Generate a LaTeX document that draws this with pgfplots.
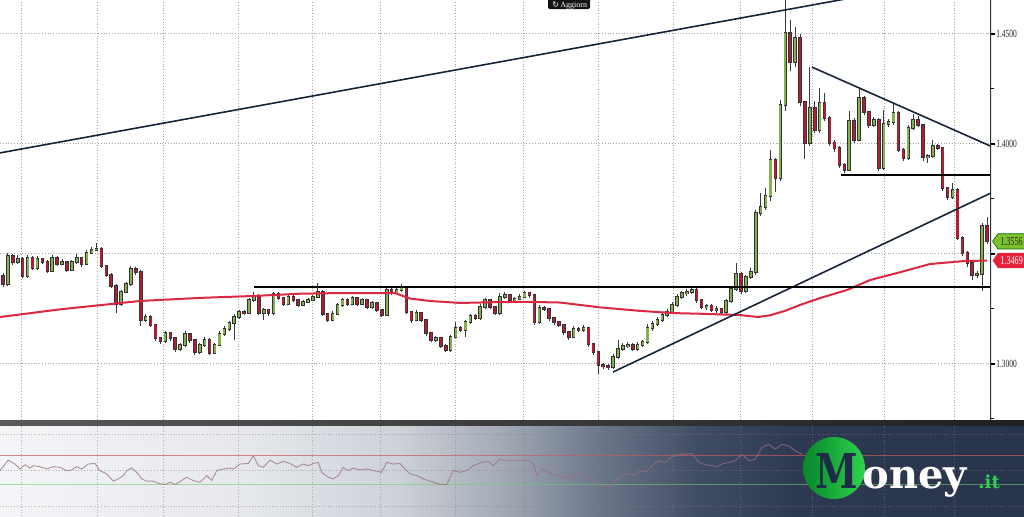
\documentclass[border=0pt]{standalone}
\usepackage{fontspec}
\setmainfont{Liberation Serif}
\newfontfamily\logofont{DejaVu Serif}
\newfontfamily\symfont{DejaVu Sans}
\usepackage{pgfplots}
\usepackage{pgfplotstable}
\pgfplotsset{compat=1.18}
\usetikzlibrary{shapes.symbols}
\definecolor{cgreen}{HTML}{86B14A}
\definecolor{cred}{HTML}{B51D37}
\definecolor{wickc}{HTML}{3A3A3A}
\definecolor{mared}{HTML}{D9283F}
\definecolor{trend}{HTML}{16243A}
\definecolor{taggreen}{HTML}{7CC12C}
\definecolor{tagred}{HTML}{E5213C}
\definecolor{rsic}{HTML}{9A6E80}
\definecolor{rsired}{HTML}{C85A5A}
\definecolor{rsigreen}{HTML}{6FCB6F}
\definecolor{bg0}{HTML}{F4F5F7}
\definecolor{bg1}{HTML}{E6E8EC}
\definecolor{bg2}{HTML}{CDD1D8}
\definecolor{bg3}{HTML}{A4ABB7}
\definecolor{bg4}{HTML}{6B768A}
\definecolor{bg5}{HTML}{404C63}
\definecolor{bg6}{HTML}{2D3951}
\definecolor{bg7}{HTML}{27344B}
\definecolor{lgD}{HTML}{08862C}
\definecolor{lgL}{HTML}{2FD24C}
\definecolor{navy}{HTML}{1E2C46}
\pgfdeclarehorizontalshading{rsibg}{100bp}{color(0bp)=(bg0); color(25bp)=(bg0); color(37bp)=(bg1); color(44.5bp)=(bg2); color(49.4bp)=(bg3); color(54.3bp)=(bg4); color(59.2bp)=(bg5); color(64bp)=(bg6); color(75bp)=(bg7); color(100bp)=(bg7)}
\pgfplotsset{candle/.style={only marks, mark=*, mark size=0pt, mark options={draw=none, fill=none}, forget plot}}

\pgfplotstableread{
o h l c
1.3398 1.3410 1.3350 1.3362
1.3362 1.3505 1.3355 1.3489
1.3489 1.3500 1.3450 1.3462
1.3462 1.3492 1.3455 1.3476
1.3476 1.3485 1.3388 1.3398
1.3398 1.3495 1.3390 1.3480
1.3480 1.3490 1.3425 1.3435
1.3435 1.3490 1.3428 1.3476
1.3476 1.3482 1.3452 1.3462
1.3462 1.3470 1.3410 1.3421
1.3421 1.3494 1.3415 1.3480
1.3480 1.3488 1.3445 1.3453
1.3453 1.3475 1.3448 1.3462
1.3462 1.3468 1.3416 1.3426
1.3426 1.3472 1.3420 1.3462
1.3462 1.3498 1.3455 1.3480
1.3480 1.3485 1.3440 1.3453
1.3453 1.3515 1.3448 1.3503
1.3503 1.3530 1.3498 1.3517
1.3517 1.3550 1.3510 1.3521
1.3521 1.3530 1.3435 1.3444
1.3444 1.3450 1.3395 1.3403
1.3403 1.3410 1.3345 1.3353
1.3353 1.3360 1.3230 1.3271
1.3271 1.3335 1.3262 1.3326
1.3326 1.3372 1.3320 1.3362
1.3362 1.3445 1.3355 1.3430
1.3430 1.3438 1.3405 1.3417
1.3417 1.3425 1.3170 1.3198
1.3198 1.3225 1.3190 1.3212
1.3212 1.3220 1.3165 1.3176
1.3176 1.3182 1.3105 1.3117
1.3117 1.3122 1.3090 1.3103
1.3103 1.3150 1.3095 1.3139
1.3139 1.3145 1.3105 1.3117
1.3117 1.3122 1.3055 1.3067
1.3067 1.3095 1.3060 1.3085
1.3085 1.3148 1.3078 1.3135
1.3135 1.3140 1.3095 1.3108
1.3108 1.3112 1.3040 1.3053
1.3053 1.3095 1.3045 1.3085
1.3085 1.3120 1.3078 1.3108
1.3108 1.3115 1.3040 1.3049
1.3049 1.3095 1.3042 1.3085
1.3085 1.3148 1.3080 1.3135
1.3135 1.3170 1.3128 1.3158
1.3158 1.3195 1.3150 1.3185
1.3185 1.3225 1.3108 1.3212
1.3212 1.3245 1.3205 1.3235
1.3235 1.3242 1.3220 1.3230
1.3230 1.3300 1.3225 1.3289
1.3289 1.3325 1.3280 1.3308
1.3308 1.3315 1.3220 1.3230
1.3230 1.3255 1.3200 1.3244
1.3244 1.3250 1.3215 1.3230
1.3230 1.3328 1.3222 1.3317
1.3317 1.3325 1.3290 1.3299
1.3299 1.3305 1.3262 1.3271
1.3271 1.3315 1.3265 1.3303
1.3303 1.3310 1.3280 1.3289
1.3289 1.3295 1.3258 1.3267
1.3267 1.3290 1.3260 1.3280
1.3280 1.3300 1.3275 1.3289
1.3289 1.3312 1.3285 1.3303
1.3303 1.3368 1.3298 1.3326
1.3326 1.3335 1.3215 1.3226
1.3226 1.3230 1.3188 1.3198
1.3198 1.3238 1.3192 1.3226
1.3226 1.3278 1.3220 1.3267
1.3267 1.3300 1.3260 1.3289
1.3289 1.3298 1.3262 1.3271
1.3271 1.3310 1.3265 1.3299
1.3299 1.3305 1.3260 1.3271
1.3271 1.3300 1.3265 1.3289
1.3289 1.3295 1.3248 1.3258
1.3258 1.3285 1.3250 1.3276
1.3276 1.3280 1.3235 1.3244
1.3244 1.3250 1.3210 1.3221
1.3221 1.3345 1.3215 1.3335
1.3335 1.3342 1.3312 1.3321
1.3321 1.3345 1.3315 1.3335
1.3335 1.3362 1.3328 1.3344
1.3344 1.3350 1.3225 1.3235
1.3235 1.3240 1.3185 1.3198
1.3198 1.3242 1.3192 1.3230
1.3230 1.3235 1.3188 1.3198
1.3198 1.3205 1.3128 1.3139
1.3139 1.3145 1.3098 1.3108
1.3108 1.3128 1.3100 1.3117
1.3117 1.3122 1.3070 1.3080
1.3080 1.3088 1.3052 1.3062
1.3062 1.3132 1.3055 1.3121
1.3121 1.3190 1.3115 1.3162
1.3162 1.3170 1.3142 1.3153
1.3153 1.3200 1.3120 1.3189
1.3189 1.3228 1.3180 1.3217
1.3217 1.3225 1.3198 1.3207
1.3207 1.3270 1.3200 1.3258
1.3258 1.3300 1.3250 1.3289
1.3289 1.3295 1.3248 1.3258
1.3258 1.3262 1.3220 1.3230
1.3230 1.3320 1.3222 1.3303
1.3303 1.3325 1.3295 1.3312
1.3312 1.3318 1.3280 1.3289
1.3289 1.3305 1.3280 1.3294
1.3294 1.3315 1.3288 1.3303
1.3303 1.3332 1.3298 1.3321
1.3321 1.3328 1.3300 1.3312
1.3312 1.3318 1.3178 1.3189
1.3189 1.3265 1.3180 1.3253
1.3253 1.3262 1.3238 1.3249
1.3249 1.3255 1.3195 1.3207
1.3207 1.3212 1.3178 1.3189
1.3189 1.3195 1.3165 1.3176
1.3176 1.3180 1.3132 1.3144
1.3144 1.3150 1.3110 1.3121
1.3121 1.3170 1.3115 1.3158
1.3158 1.3168 1.3142 1.3153
1.3153 1.3175 1.3145 1.3162
1.3162 1.3168 1.3078 1.3089
1.3089 1.3095 1.3040 1.3053
1.3053 1.3060 1.2955 1.2994
1.2994 1.3002 1.2975 1.2989
1.2989 1.2998 1.2970 1.2985
1.2985 1.3042 1.2975 1.3030
1.3030 1.3108 1.3022 1.3067
1.3067 1.3092 1.3058 1.3080
1.3080 1.3098 1.3072 1.3085
1.3085 1.3095 1.3058 1.3067
1.3067 1.3098 1.3060 1.3085
1.3085 1.3110 1.3078 1.3098
1.3098 1.3180 1.3090 1.3162
1.3162 1.3192 1.3150 1.3180
1.3180 1.3212 1.3170 1.3198
1.3198 1.3235 1.3190 1.3221
1.3221 1.3248 1.3212 1.3235
1.3235 1.3280 1.3225 1.3267
1.3267 1.3315 1.3258 1.3303
1.3303 1.3332 1.3295 1.3321
1.3321 1.3340 1.3310 1.3326
1.3326 1.3348 1.3315 1.3335
1.3335 1.3342 1.3278 1.3289
1.3289 1.3295 1.3248 1.3258
1.3258 1.3272 1.3245 1.3262
1.3262 1.3270 1.3235 1.3244
1.3244 1.3260 1.3232 1.3249
1.3249 1.3255 1.3225 1.3235
1.3235 1.3295 1.3225 1.3285
1.3285 1.3350 1.3275 1.3339
1.3339 1.3458 1.3330 1.3408
1.3408 1.3415 1.3318 1.3330
1.3330 1.3405 1.3320 1.3394
1.3394 1.3435 1.3385 1.3417
1.3417 1.3700 1.3405 1.3685
1.3685 1.3775 1.3670 1.3712
1.3712 1.3800 1.3700 1.3762
1.3762 1.3970 1.3740 1.3926
1.3926 1.3935 1.3780 1.3844
1.3844 1.4200 1.3830 1.4176
1.4176 1.4660 1.4150 1.4503
1.4503 1.4560 1.4330 1.4371
1.4371 1.4530 1.4350 1.4480
1.4480 1.4500 1.4170 1.4189
1.4189 1.4195 1.3930 1.4003
1.4003 1.4348 1.3990 1.4162
1.4162 1.4195 1.4050 1.4062
1.4062 1.4255 1.4050 1.4185
1.4185 1.4232 1.4105 1.4117
1.4117 1.4125 1.3990 1.4003
1.4003 1.4015 1.3960 1.3980
1.3980 1.3990 1.3890 1.3903
1.3903 1.3910 1.3868 1.3880
1.3880 1.4150 1.3875 1.4103
1.4103 1.4115 1.4005 1.4017
1.4017 1.4258 1.4010 1.4207
1.4207 1.4215 1.4130 1.4144
1.4144 1.4150 1.4070 1.4085
1.4085 1.4120 1.4075 1.4108
1.4108 1.4115 1.3875 1.3889
1.3889 1.4153 1.3880 1.4089
1.4089 1.4110 1.4075 1.4098
1.4098 1.4185 1.4085 1.4139
1.4139 1.4150 1.3960 1.3971
1.3971 1.3980 1.3920 1.3935
1.3935 1.4085 1.3925 1.4071
1.4071 1.4135 1.4060 1.4108
1.4108 1.4125 1.4075 1.4085
1.4085 1.4090 1.3920 1.3939
1.3939 1.3955 1.3910 1.3944
1.3944 1.4015 1.3935 1.3989
1.3989 1.3998 1.3970 1.3980
1.3980 1.3985 1.3785 1.3798
1.3798 1.3805 1.3745 1.3757
1.3757 1.3821 1.3750 1.3789
1.3789 1.3800 1.3560 1.3571
1.3571 1.3580 1.3490 1.3503
1.3503 1.3510 1.3440 1.3457
1.3457 1.3465 1.3380 1.3403
1.3403 1.3420 1.3390 1.3408
1.3408 1.3640 1.3330 1.3626
1.3626 1.3667 1.3545 1.3556
}\candles

\begin{document}
\begin{tikzpicture}[x=1pt,y=1pt]
\useasboundingbox (0,0) rectangle (512,258);
% lower panel background
\shade[shading=rsibg] (0,0) rectangle (512,47.5);
\shade[left color=black!65, right color=black!88] (0,45.3) rectangle (512,47.6);

\begin{axis}[at={(0pt,0pt)}, anchor=south west, scale only axis,
  width=512pt, height=45.5pt,
  xmin=0, xmax=1024, ymin=-14, ymax=113,
  axis line style={draw=none}, tick style={draw=none},
  xtick={21,97,163,238,312,380,455,523,598,673,740,812,884,954},
  ytick={0,50,100}, xticklabels={}, yticklabels={},
  xmajorgrids, ymajorgrids,
  grid style={densely dotted, gray, opacity=0.55, line width=0.4pt}]
\addplot[color=rsired, opacity=0.7, line width=0.6pt] coordinates {(0,70) (1024,70)};
\addplot[color=rsigreen, opacity=0.6, line width=0.6pt] coordinates {(0,30) (1024,30)};
\addplot[color=rsic, opacity=0.75, line width=0.45pt] coordinates {
(0,49.3) (8.3,64) (15,58.5) (20,51.6) (25,57.6) (30,53) (33.3,56.2) (40,54.8) (46.7,51.6) (53.3,54.8) (60,53.9) (66.7,49.3) (71.7,50.2) (76.7,54.8) (81.7,51.6) (88.3,58.5) (95,59.4) (100,49.3) (106.7,44.7) (113.3,34.6) (118.3,37.8) (123.3,42.4) (126.7,49.3) (131.7,53) (136.7,47) (141.7,37.8) (146.7,34.6) (153.3,34.6) (160,30.9) (165,30) (170,33.2) (175,30) (181.7,35.5) (186.7,40.1) (193.3,35.5) (200,33.2) (203.3,37.8) (206.7,42.4) (211.7,35.5) (216.7,49.3) (223.3,51.6) (230,53) (233.3,51.6) (240,58.5) (248.3,59.4) (253.3,70) (258.3,56.2) (263.3,53.9) (270,64) (276.7,58.5) (283.3,62.2) (290,59.4) (296.7,53.9) (303.3,58.5) (308.3,56.2) (313.3,59.4) (318.3,60.8) (321.7,47) (328.3,40.1) (333.3,37.8) (338.3,42.4) (343.3,53.9) (348.3,49.3) (353.3,53) (360,50.2) (366.7,51.6) (373.3,49.3) (381.7,47) (386.7,60.8) (393.3,58.5) (400,59.4) (405,51.6) (410,44.7) (416.7,42.4) (423.3,37.8) (433.3,33.2) (440,30) (446.7,30) (453.3,49.3) (460,47) (466.7,49.3) (473.3,56.2) (481.7,60.8) (488.3,62.2) (493.3,56.2) (500,65.4) (505,63.1) (512,63.1)
(522,63.1) (528.7,64) (533.7,58.5) (537,42.4) (542,51.6) (548.7,47) (555.3,42.4) (562,41) (568.7,37.8) (575.3,43.8) (582,45.6) (588.7,40.1) (595.3,33.2) (600.3,26.3) (605.3,28.6) (610.3,26.3) (615.3,35.5) (622,42.4) (630.3,44.7) (635.3,42.4) (640.3,49.3) (645.3,47) (652,56.2) (658.7,63.1) (665.3,60.8) (672,68.6) (678.7,71.4) (685.3,72.3) (692,73.2) (698.7,60.8) (705.3,57.6) (712,56.2) (717,54.8) (722,58.5) (728.7,60.8) (735.3,63.1) (742,72.3) (748.7,63.1) (755.3,65.4) (762,81.5) (768.7,86.1) (775.3,79.2) (782,86.1) (788.7,83.8) (795.3,76.9) (802,72.3)};
\end{axis}

\begin{axis}[at={(0pt,48pt)}, anchor=south west, scale only axis,
  width=495.5pt, height=210pt,
  xmin=0, xmax=991, ymin=1.2744, ymax=1.4653,
  axis line style={draw=none},
  xtick={21,97,163,238,312,380,455,523,598,673,740,812,884,954},
  xticklabels={}, major x tick style={draw=none},
  ytick={1.30,1.35,1.40,1.45}, yticklabels={1.3000,{},1.4000,1.4500},
  minor ytick={1.275,1.325,1.375,1.425},
  ytick pos=right, yticklabel pos=right,
  tick align=outside, major tick length=2.2pt, minor tick length=1.6pt,
  major y tick style={line width=0.9pt, black},
  minor y tick style={line width=0.5pt, black},
  yticklabel style={font=\fontsize{5.5pt}{6pt}\selectfont, xscale=0.68, inner sep=0.5pt, text=black!85},
  xmajorgrids, ymajorgrids,
  grid style={densely dotted, black!35, line width=0.45pt}]
% wicks
\addplot[candle, error bars/.cd, y dir=both, y explicit, error mark=none,
  error bar style={line width=0.5pt, color=wickc}]
  table[x expr={3+4.92*\coordindex}, y expr={(\thisrow{h}+\thisrow{l})/2}, y error expr={(\thisrow{h}-\thisrow{l})/2}]{\candles};
% body outline
\addplot[candle, error bars/.cd, y dir=both, y explicit, error mark=none,
  error bar style={line width=1.75pt, color=black!80}]
  table[x expr={3+4.92*\coordindex}, y expr={(\thisrow{o}+\thisrow{c})/2}, y error expr={abs(\thisrow{c}-\thisrow{o})/2+0.0003}]{\candles};
% green bodies
\addplot[candle, error bars/.cd, y dir=both, y explicit, error mark=none,
  error bar style={line width=1.05pt, color=cgreen}]
  table[x expr={3+4.92*\coordindex}, y expr={(\thisrow{o}+\thisrow{c})/2}, y error expr={max(\thisrow{c}-\thisrow{o},0)/2}]{\candles};
% red bodies
\addplot[candle, error bars/.cd, y dir=both, y explicit, error mark=none,
  error bar style={line width=1.05pt, color=cred}]
  table[x expr={3+4.92*\coordindex}, y expr={(\thisrow{o}+\thisrow{c})/2}, y error expr={max(\thisrow{o}-\thisrow{c},0)/2}]{\candles};
% moving average
\addplot[color=mared, line width=1pt] coordinates {
(0,1.3212) (60,1.3247) (140,1.3285) (200,1.3299) (255,1.3308) (300,1.3318) (340,1.3321) (395,1.3321) (410,1.3296) (430,1.3285) (460,1.3276) (500,1.3280) (527,1.3281) (560,1.3278) (600,1.3256) (640,1.3240) (673,1.3230) (700,1.3227) (740,1.3221) (758,1.3212) (770,1.3220) (785,1.3240) (800,1.3267) (820,1.3298) (847,1.3335) (870,1.3380) (897,1.3412) (930,1.3453) (963,1.3466) (987,1.3469)};
% trend lines
\addplot[color=trend, line width=0.8pt] coordinates {(0,1.3958) (870,1.4678)};
\addplot[color=trend, line width=0.8pt] coordinates {(812,1.4348) (991,1.3988)};
\addplot[color=black, line width=0.8pt] coordinates {(841,1.3858) (991,1.3858)};
\addplot[color=trend, line width=0.8pt] coordinates {(613,1.2962) (991,1.3776)};
\addplot[color=black, line width=0.8pt] coordinates {(254,1.3348) (991,1.3348)};
% right axis line
\addplot[color=black!80, line width=1.4pt] coordinates {(991,1.2744) (991,1.4653)};
\coordinate (tg) at (axis cs:991,1.3556);
\coordinate (tr) at (axis cs:991,1.3469);
\end{axis}

% price tags
\node[signal, signal to=west, signal pointer angle=110, fill=taggreen, draw=green!40!black, line width=0.3pt,
  anchor=west, minimum height=7.6pt, inner xsep=1.2pt, inner ysep=0pt, text=black!85,
  font=\fontsize{6pt}{6pt}\selectfont] at ([xshift=0.6pt]tg) {\scalebox{0.68}[1]{1.3556}};
\node[signal, signal to=west, signal pointer angle=110, fill=tagred,
  anchor=west, minimum height=7.6pt, inner xsep=1.2pt, inner ysep=0pt, text=white,
  font=\fontsize{6pt}{6pt}\selectfont] at ([xshift=0.6pt]tr) {\scalebox{0.68}[1]{1.3469}};

% Aggiorn button
\fill[black!92, rounded corners=0.8pt] (274,253.4) rectangle (295,260);
\node[anchor=base west, inner sep=0, text=white, font=\fontsize{4pt}{4pt}\selectfont] at (276,254.4) {{\symfont ↻}\,Aggiorn};

% logo
\shade[left color=lgD, right color=lgL] (417,24) circle (15.5);
\node[anchor=base, inner sep=0, text=navy, font=\logofont\bfseries\fontsize{24pt}{24pt}\selectfont, xscale=0.8] at (418.5,14) {M};
\node[anchor=base west, inner sep=0, text=white, font=\logofont\bfseries\fontsize{20pt}{20pt}\selectfont] at (431,14) {oney};
\node[anchor=base west, inner sep=0, text=lgL, font=\logofont\bfseries\fontsize{9pt}{9pt}\selectfont] at (489,14) {.it};
\end{tikzpicture}
\end{document}
